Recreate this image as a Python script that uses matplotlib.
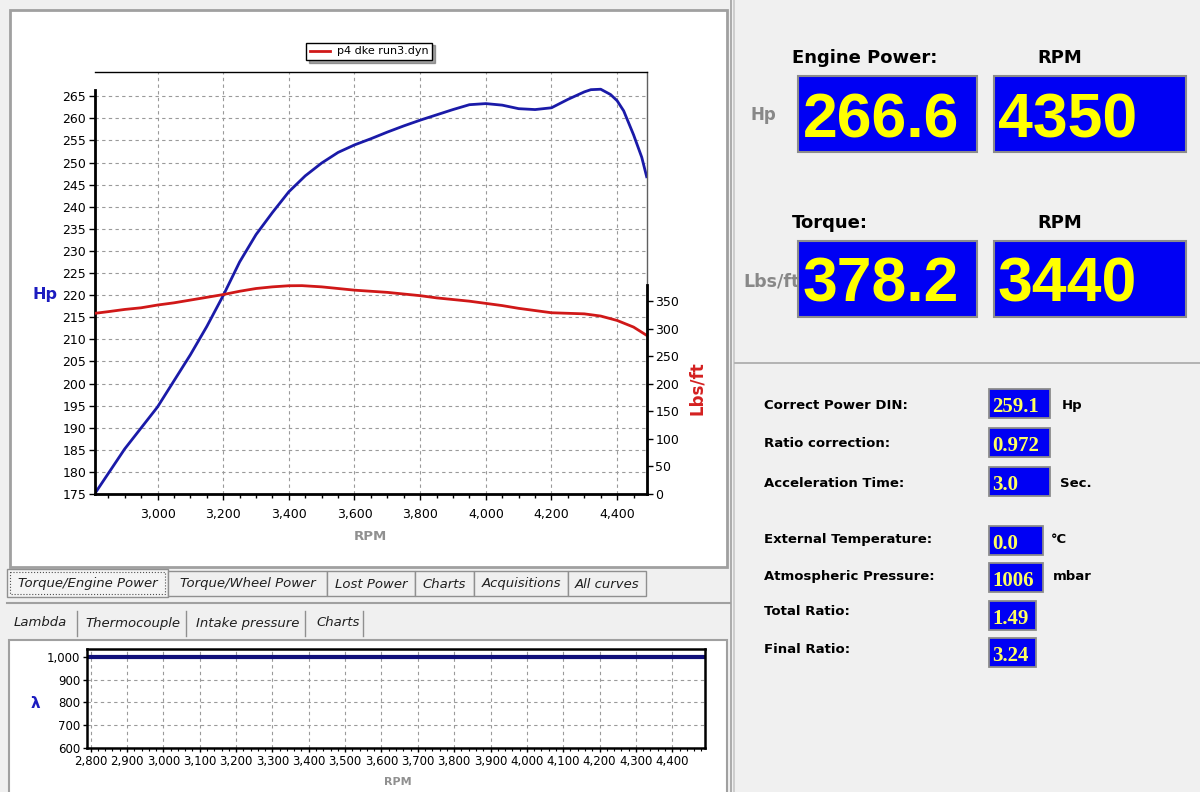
import numpy as np
import matplotlib.pyplot as plt
from matplotlib.patches import Rectangle
from matplotlib.ticker import MultipleLocator, FuncFormatter

# engine power (Hp)
hp_rpm = [2810, 2900, 3000, 3050, 3100, 3150, 3200, 3250, 3300, 3350, 3400, 3450, 3500, 3550, 3600, 3650, 3700, 3750,
          3800, 3850, 3900, 3950, 4000, 4050, 4100, 4150, 4200, 4250, 4300, 4320, 4350, 4380, 4400, 4420, 4450, 4475,
          4490]
hp = [175.2, 185.2, 194.7, 200.6, 206.5, 212.9, 219.9, 227.5, 233.7, 238.7, 243.4, 247.0, 249.9, 252.3, 254.0, 255.4,
      256.9, 258.3, 259.6, 260.8, 262.0, 263.1, 263.35, 263.0, 262.2, 262.0, 262.4, 264.3, 266.0, 266.5, 266.6, 265.4,
      264.0, 261.7, 256.3, 251.2, 246.8]

# torque (Lbs/ft)
tq_rpm = [2810, 2850, 2900, 2950, 3000, 3050, 3100, 3150, 3200, 3250, 3300, 3350, 3400, 3440, 3500, 3550, 3600, 3650,
          3700, 3750, 3800, 3850, 3900, 3950, 4000, 4050, 4100, 4150, 4200, 4250, 4300, 4350, 4400, 4450, 4490]
tq = [328, 331, 335, 338, 343, 347, 352, 357, 362, 368, 373, 376, 378, 378.2, 376, 373, 370, 368, 366, 363, 360, 356,
      353, 350, 346, 342, 337, 333, 329, 328, 327, 323, 315, 303, 288]

# lambda (flat)
lam_rpm = [2790, 4490]
lam = [1000, 1000]

legend_name = "p4 dke run3.dyn"
top_tabs = ["Torque/Engine Power", "Torque/Wheel Power", "Lost Power", "Charts", "Acquisitions", "All curves"]
low_tabs = ["Lambda", "Thermocouple", "Intake pressure", "Charts"]

big_titles = ["Engine Power:", "Torque:"]
big_units = ["Hp", "Lbs/ft"]
big_values = ["266.6", "378.2"]
big_rpm = ["4350", "3440"]

info_labels = ["Correct Power DIN:", "Ratio correction:", "Acceleration Time:", "External Temperature:",
               "Atmospheric Pressure:", "Total Ratio:", "Final Ratio:"]
info_values = ["259.1", "0.972", "3.0", "0.0", "1006", "1.49", "3.24"]
info_units = ["Hp", "", "Sec.", "°C", "mbar", "", ""]

W, H = 1200, 792
fig = plt.figure(figsize=(12, 7.92), dpi=100)
fig.patch.set_facecolor('#f0f0f0')


def rect(x0, y0, x1, y1):
    return [x0 / W, 1 - y1 / H, (x1 - x0) / W, (y1 - y0) / H]


comma = FuncFormatter(lambda v, p: "{:,}".format(int(round(v))))

# pixel-space layer for the window furniture
bg = fig.add_axes([0, 0, 1, 1], zorder=0)
bg.set_xlim(0, W)
bg.set_ylim(H, 0)
bg.axis('off')

bg.add_patch(Rectangle((10, 10), 717, 557, fc='white', ec='#a0a0a0', lw=2))
bg.plot([731, 731], [0, H], color='#a0a0a0', lw=1.2)
bg.plot([734, 734], [0, H], color='#c8c8c8', lw=1.2)
bg.plot([735, W], [363, 363], color='#a8a8a8', lw=1.2)

# upper tab strip
tab_x = [7, 168, 327, 415, 474, 568, 646]
for i, name in enumerate(top_tabs):
    x0, x1 = tab_x[i], tab_x[i + 1]
    if i == 0:
        bg.add_patch(Rectangle((x0, 569), x1 - x0, 28, fc='#f4f4f4', ec='#909090', lw=1))
        bg.add_patch(Rectangle((x0 + 3, 572), x1 - x0 - 6, 22, fill=False, ec='#505050', lw=0.8, ls=':'))
    else:
        bg.add_patch(Rectangle((x0, 571), x1 - x0, 25, fc='#f0f0f0', ec='#909090', lw=1))
    bg.text((x0 + x1) / 2, 584, name, ha='center', va='center', fontsize=9.5, style='italic', color='#202020')
bg.plot([7, 730], [603, 603], color='#a0a0a0', lw=1.5)

# lower tab strip
sep_x = [77, 186, 305, 363]
lab_x = [14, 85, 196, 316]
for i, name in enumerate(low_tabs):
    bg.text(lab_x[i], 623, name, ha='left', va='center', fontsize=9.5, style='italic', color='#202020')
    bg.plot([sep_x[i], sep_x[i]], [611, 636], color='#909090', lw=1)
bg.add_patch(Rectangle((9, 640), 718, 160, fc='white', ec='#a0a0a0', lw=1.5))

# axis captions
bg.text(33, 299, "Hp", color='#1c1cc0', fontsize=11.5, fontweight='bold', ha='left', va='baseline')
bg.text(697, 388, "Lbs/ft", color='#d42020', fontsize=12, fontweight='bold', rotation=90, ha='center', va='center')
bg.text(370, 536, "RPM", color='#909090', fontsize=9.5, fontweight='bold', ha='center', va='center')
bg.text(35, 703, "λ", color='#1c1cc0', fontsize=11, fontweight='bold', ha='center', va='center')
bg.text(398, 782, "RPM", color='#909090', fontsize=8, fontweight='bold', ha='center', va='center')

# big readouts
for i in range(2):
    yt = [63, 228][i]
    yb = [76, 241][i]
    bg.text(792, yt, big_titles[i], fontsize=13, fontweight='bold', ha='left', va='baseline')
    bg.text(1037, yt, "RPM", fontsize=13, fontweight='bold', ha='left', va='baseline')
    bg.add_patch(Rectangle((798, yb), 179, 76, fc='#0000f4', ec='#8c8c8c', lw=1.5))
    bg.add_patch(Rectangle((994, yb), 192, 76, fc='#0000f4', ec='#8c8c8c', lw=1.5))
    bg.text(803, yb + 61, big_values[i], color='#ffff00', fontsize=45, fontweight='bold',
            family='Liberation Sans', ha='left', va='baseline')
    bg.text(998, yb + 61, big_rpm[i], color='#ffff00', fontsize=45, fontweight='bold',
            family='Liberation Sans', ha='left', va='baseline')
bg.text(751, 120, big_units[0], color='#888888', fontsize=12, fontweight='bold', ha='left', va='baseline')
bg.text(743, 287, big_units[1], color='#888888', fontsize=12.5, fontweight='bold', ha='left', va='baseline')

# info block
lab_base = [409, 447, 487, 543, 580, 615, 653]
box_y = [389, 428, 467, 526, 563, 601, 638]
box_x1 = [1050, 1050, 1050, 1043, 1043, 1036, 1036]
unit_x = [1062, 0, 1060, 1051, 1053, 0, 0]
for i in range(len(info_labels)):
    bg.text(764, lab_base[i], info_labels[i], fontsize=9.5, fontweight='bold', ha='left', va='baseline')
    bg.add_patch(Rectangle((989, box_y[i]), box_x1[i] - 989, 29, fc='#0000f4', ec='#8c8c8c', lw=1.3))
    bg.text(992, box_y[i] + 23, info_values[i], color='#ffff60', fontsize=15, fontweight='bold',
            family='Liberation Serif', ha='left', va='baseline')
    if info_units[i]:
        bg.text(unit_x[i], lab_base[i], info_units[i], fontsize=9.5, fontweight='bold', ha='left', va='baseline')

# main dyno chart
ax = fig.add_axes(rect(94.5, 72, 647, 494), zorder=2)
ax.set_facecolor('white')
ax.plot(hp_rpm, hp, color='#1a1aa8', lw=2)
ax.set_xlim(2808, 4491)
ax.set_ylim(175, 270.5)
ax.xaxis.set_major_locator(MultipleLocator(200))
ax.xaxis.set_minor_locator(MultipleLocator(50))
ax.xaxis.set_major_formatter(comma)
ax.set_yticks(np.arange(175, 266, 5))
ax.grid(True, which='major', color='#9a9a9a', lw=0.8, ls=(0, (3, 3)))
ax.tick_params(axis='both', which='major', labelsize=9, length=4, width=1, colors='black', pad=2)
ax.tick_params(axis='x', which='minor', length=3, width=1)
ax.tick_params(axis='x', pad=6)
ax.spines['left'].set_linewidth(2)
ax.spines['left'].set_bounds(175, 266.5)
ax.spines['bottom'].set_linewidth(2)
ax.spines['top'].set_linewidth(1)
ax.spines['right'].set_linewidth(1)
ax.spines['right'].set_color('#606060')

ax2 = ax.twinx()
ax2.plot(tq_rpm, tq, color='#d01818', lw=2, label=legend_name)
ax2.set_ylim(0, 766)
ax2.set_yticks(np.arange(0, 351, 50))
ax2.tick_params(axis='y', labelsize=9, length=4, width=1, pad=2)
for s in ['top', 'left', 'bottom']:
    ax2.spines[s].set_visible(False)
ax2.spines['right'].set_linewidth(2)
ax2.spines['right'].set_bounds(0, 380)

leg = ax2.legend(loc='center', bbox_to_anchor=((300 + 438) / 2 / W, 1 - 51.5 / H), bbox_transform=fig.transFigure,
                 fontsize=8, fancybox=False, shadow=True, framealpha=1, edgecolor='black', handlelength=1.8,
                 borderpad=0.35, handletextpad=0.6)
leg.get_frame().set_linewidth(1)

# lambda chart
axl = fig.add_axes(rect(87, 649, 705, 748), zorder=2)
axl.set_facecolor('white')
axl.plot(lam_rpm, lam, color='#10107a', lw=3)
axl.set_xlim(2790, 4490)
axl.set_ylim(600, 1035)
axl.xaxis.set_major_locator(MultipleLocator(100))
axl.xaxis.set_minor_locator(MultipleLocator(20))
axl.xaxis.set_major_formatter(comma)
axl.set_yticks([600, 700, 800, 900, 1000])
axl.yaxis.set_major_formatter(comma)
axl.grid(True, which='major', color='#9a9a9a', lw=0.8, ls=(0, (3, 3)))
axl.tick_params(axis='both', which='major', labelsize=8.5, length=3, width=1, pad=2)
axl.tick_params(axis='x', which='minor', length=2, width=0.8)
for s in axl.spines.values():
    s.set_linewidth(1.8)

plt.savefig("out.png", dpi=100, facecolor=fig.get_facecolor())
